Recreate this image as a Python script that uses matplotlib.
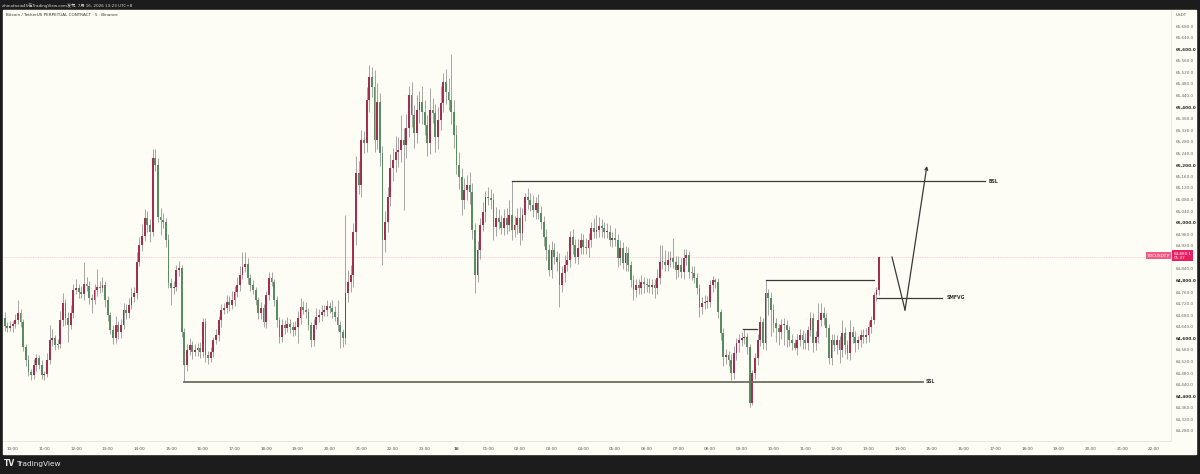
import numpy as np
import matplotlib.pyplot as plt
from matplotlib.patches import Rectangle
from matplotlib.transforms import blended_transform_factory

plt.rcParams['font.family'] = ['DejaVu Sans', 'Noto Sans CJK SC']

# BTCUSDT.P 5 min candles, 15 Jul 09:40 -> 16 Jul 13:20 (UTC+8)
first_open = 64650
closes = [
    64670, 64643, 64636, 64643, 64650, 64663, 64688, 64657, 64570, 64525,
    64484, 64473, 64508, 64532, 64508, 64473, 64477, 64525, 64594, 64601,
    64577, 64580, 64663, 64722, 64670, 64646, 64688, 64767, 64774, 64760,
    64753, 64788, 64781, 64740, 64733, 64767, 64778, 64774, 64785, 64733,
    64681, 64629, 64601, 64646, 64622, 64646, 64698, 64688, 64715, 64743,
    64757, 64864, 64923, 64954, 65016, 64992, 64968, 65224, 65200, 65020,
    65009, 65002, 64940, 64791, 64774, 64778, 64836, 64843, 64622, 64508,
    64560, 64577, 64553, 64560, 64567, 64553, 64657, 64542, 64532, 64553,
    64594, 64612, 64663, 64698, 64705, 64726, 64715, 64733, 64760, 64785,
    64819, 64847, 64857, 64809, 64785, 64767, 64733, 64688, 64705, 64657,
    64750, 64809, 64795, 64733, 64663, 64605, 64646, 64636, 64650, 64639,
    64629, 64639, 64670, 64708, 64698, 64691, 64646, 64594, 64646, 64674,
    64681, 64691, 64698, 64712, 64705, 64691, 64674, 64646, 64622, 64601,
    64757, 64795, 64819, 64968, 65172, 65130, 65286, 65276, 65424, 65504,
    65469, 65286, 65417, 65241, 64940, 65002, 65089, 65189, 65217, 65244,
    65251, 65286, 65269, 65327, 65442, 65372, 65310, 65390, 65417, 65383,
    65338, 65276, 65390, 65379, 65296, 65355, 65414, 65487, 65452, 65424,
    65383, 65303, 65200, 65158, 65078, 65113, 65130, 65106, 64975, 64819,
    64906, 64992, 65037, 65089, 65085, 65078, 64985, 65016, 65002, 64982,
    65016, 64992, 65027, 64975, 64992, 65016, 64964, 65027, 65089, 65078,
    65061, 65044, 65068, 65034, 65002, 64951, 64906, 64836, 64906, 64881,
    64864, 64785, 64826, 64854, 64871, 64951, 64923, 64881, 64912, 64940,
    64916, 64912, 64940, 64982, 64968, 64975, 64989, 64982, 64968, 64968,
    64940, 64947, 64940, 64878, 64912, 64861, 64895, 64854, 64802, 64767,
    64785, 64774, 64795, 64788, 64785, 64778, 64785, 64774, 64809, 64864,
    64864, 64854, 64871, 64878, 64864, 64836, 64854, 64829, 64878, 64888,
    64829, 64826, 64809, 64774, 64708, 64722, 64726, 64726, 64785, 64802,
    64795, 64691, 64619, 64536, 64542, 64525, 64480, 64549, 64584, 64594,
    64601, 64605, 64570, 64376, 64480, 64532, 64594, 64657, 64584, 64757,
    64740, 64698, 64653, 64636, 64622, 64646, 64646, 64629, 64594, 64584,
    64567, 64594, 64612, 64594, 64584, 64629, 64670, 64584, 64605, 64663,
    64688, 64670, 64636, 64532, 64594, 64577, 64594, 64560, 64619, 64577,
    64549, 64622, 64605, 64584, 64594, 64612, 64605, 64612, 64639, 64663,
    64750, 64767, 64880,
]
upper_wicks = [
    15, 20, 12, 18, 10, 22, 45, 14, 10, 12,
    16, 10, 20, 14, 12, 18, 10, 25, 52, 30,
    12, 18, 30, 35, 15, 20, 28, 22, 30, 15,
    20, 76, 25, 18, 14, 22, 62, 20, 28, 15,
    12, 10, 18, 30, 15, 22, 26, 20, 24, 30,
    22, 35, 28, 40, 30, 25, 20, 31, 30, 22,
    30, 25, 15, 20, 18, 22, 18, 25, 12, 15,
    20, 26, 15, 22, 18, 20, 14, 12, 15, 18,
    12, 20, 15, 22, 18, 25, 20, 30, 22, 28,
    30, 51, 40, 20, 15, 18, 12, 10, 22, 14,
    15, 20, 22, 12, 15, 10, 20, 18, 24, 16,
    18, 22, 25, 30, 20, 28, 15, 12, 22, 30,
    20, 25, 18, 22, 15, 28, 20, 59, 15, 12,
    270, 40, 35, 30, 60, 40, 35, 30, 45, 41,
    35, 60, 66, 30, 25, 40, 35, 50, 40, 55,
    45, 86, 40, 50, 30, 45, 35, 50, 40, 55,
    40, 35, 76, 40, 30, 45, 60, 30, 45, 50,
    159, 40, 35, 45, 30, 40, 35, 45, 30, 25,
    30, 25, 35, 20, 34, 30, 25, 40, 30, 25,
    30, 35, 51, 117, 30, 35, 40, 25, 13, 30,
    25, 35, 21, 30, 25, 20, 28, 22, 30, 25,
    20, 30, 25, 35, 30, 22, 28, 20, 30, 25,
    22, 30, 25, 20, 35, 52, 30, 25, 20, 30,
    25, 22, 35, 20, 28, 22, 25, 20, 15, 18,
    20, 22, 25, 18, 20, 25, 22, 20, 30, 59,
    59, 40, 30, 25, 69, 22, 30, 25, 31, 21,
    15, 20, 25, 18, 15, 20, 25, 22, 18, 15,
    7, 15, 12, 18, 20, 15, 20, 25, 18, 22,
    20, 27, 15, 12, 10, 18, 20, 22, 15, 45,
    15, 20, 22, 18, 15, 20, 25, 18, 15, 20,
    15, 22, 20, 18, 25, 15, 21, 18, 22, 59,
    34, 20, 18, 15, 22, 20, 18, 15, 44, 20,
    18, 41, 22, 20, 15, 18, 20, 25, 22, 15,
    12, 10, 1,
]
lower_wicks = [
    12, 18, 15, 10, 20, 14, 12, 18, 15, 20,
    15, 18, 12, 20, 15, 12, 18, 10, 15, 20,
    18, 15, 12, 20, 25, 60, 15, 18, 12, 20,
    15, 20, 18, 22, 45, 15, 20, 18, 12, 25,
    20, 15, 22, 18, 25, 20, 15, 22, 18, 15,
    18, 22, 15, 20, 18, 25, 35, 15, 20, 18,
    50, 20, 25, 18, 59, 20, 15, 22, 18, 58,
    20, 18, 25, 15, 22, 20, 18, 25, 20, 15,
    18, 15, 20, 22, 15, 18, 20, 15, 22, 18,
    20, 15, 18, 22, 20, 15, 18, 22, 20, 18,
    20, 18, 15, 22, 25, 21, 18, 20, 15, 22,
    20, 18, 55, 20, 15, 22, 18, 25, 20, 15,
    18, 20, 15, 22, 18, 20, 15, 22, 55, 31,
    20, 30, 35, 40, 45, 30, 40, 35, 30, 40,
    35, 40, 30, 45, 86, 40, 35, 30, 45, 40,
    50, 40, 225, 45, 30, 40, 50, 35, 45, 40,
    35, 46, 40, 35, 50, 40, 35, 30, 40, 35,
    40, 45, 30, 40, 50, 30, 35, 40, 30, 62,
    25, 30, 20, 35, 25, 30, 45, 30, 25, 20,
    25, 30, 20, 35, 25, 30, 41, 25, 20, 30,
    20, 25, 30, 22, 25, 30, 35, 20, 28, 25,
    30, 77, 25, 30, 20, 25, 30, 22, 25, 20,
    25, 20, 30, 25, 22, 20, 25, 30, 22, 20,
    22, 25, 20, 30, 25, 22, 28, 20, 25, 34,
    25, 22, 20, 30, 25, 22, 25, 34, 20, 22,
    25, 20, 22, 25, 20, 30, 25, 20, 22, 25,
    20, 25, 18, 22, 34, 25, 20, 22, 18, 25,
    20, 22, 25, 30, 25, 20, 24, 22, 25, 30,
    22, 20, 25, 14, 6, 20, 25, 22, 20, 25,
    60, 90, 30, 50, 45, 25, 70, 60, 22, 25,
    7, 25, 20, 30, 22, 25, 20, 30, 25, 22,
    20, 25, 30, 22, 25, 20, 30, 46, 25, 30,
    22, 25, 20, 30, 22, 25, 20, 22, 25, 20,
    15, 20, 18,
]

# hour labels (x = hours after 15 Jul 10:00)
hour_labels = ['10:00', '11:00', '12:00', '13:00', '14:00', '15:00', '16:00', '17:00',
               '18:00', '19:00', '20:00', '21:00', '22:00', '23:00', '16', '01:00',
               '02:00', '03:00', '04:00', '05:00', '06:00', '07:00', '08:00', '09:00',
               '10:00', '11:00', '12:00', '13:00', '14:00', '15:00', '16:00', '17:00',
               '18:00', '19:00', '20:00', '21:00', '22:00']
price_ticks = np.arange(64280, 65681, 40)

# drawn levels: (start hour, end hour, price, label)
bsl = (15.75, 30.67, 65144, 'BSL')
ssl = (5.417, 28.72, 64450, 'SSL')
smfvg = (27.27, 29.32, 64740, 'SMFVG')
level_high = (23.75, 27.17, 64802)
level_small = (23.04, 23.48, 64632)
path_hours = [27.74, 28.15, 28.84]
path_prices = [64881, 64698, 65196]
last_price = 64880.1

closes = np.array(closes, dtype=float)
n = len(closes)
hours = np.arange(n) / 12 - 1 / 3
opens = np.r_[first_open, closes[:-1]]
highs = np.maximum(opens, closes) + np.array(upper_wicks)
lows = np.minimum(opens, closes) - np.array(lower_wicks)
up = closes >= opens

bg = '#fdfcf5'
fig = plt.figure(figsize=(12, 4.74), dpi=100, facecolor='#1c1c1c')
fig.patches.append(Rectangle((3 / 1200, 20 / 474), 1193 / 1200, 444 / 474,
                             transform=fig.transFigure, color=bg, zorder=-5))
ax = fig.add_axes([3 / 1200, 33 / 474, 1168 / 1200, 431 / 474])
ax.set_facecolor(bg)

# candles: red up, green down
ax.vlines(hours, lows, highs, color='#8e8e8e', lw=0.55, zorder=2)
body = np.abs(closes - opens)
body[body < 3] = 3
ax.bar(hours[up], body[up], bottom=np.minimum(opens, closes)[up], width=0.058,
       color='#a52d50', lw=0, zorder=3)
ax.bar(hours[~up], body[~up], bottom=np.minimum(opens, closes)[~up], width=0.058,
       color='#5a8c62', lw=0, zorder=3)

# current price line
ax.axhline(last_price, color='#f2a7b5', lw=0.5, ls=(0, (1, 1.5)), zorder=1)

# drawings
line_kw = dict(color='#3a3a3a', lw=0.9, zorder=4)
for x0, x1, p, lab in (bsl, smfvg):
    ax.plot([x0, x1], [p, p], **line_kw)
    ax.text(x1 + 0.13, p, lab, fontsize=3.3, fontweight='bold', color='#333',
            va='center', ha='left')
ax.plot([bsl[0], bsl[0]], [bsl[2], highs[193]], **line_kw)
ax.plot([ssl[0], ssl[1]], [ssl[2], ssl[2]], color='#6e6e62', lw=1.3, zorder=4)
ax.text(ssl[1] + 0.08, ssl[2], ssl[3], fontsize=3.3, fontweight='bold', color='#333',
        va='center', ha='left')
ax.plot(level_high[:2], [level_high[2]] * 2, **line_kw)
ax.plot(level_small[:2], [level_small[2]] * 2, **line_kw)
ax.plot(path_hours[:2], path_prices[:2], **line_kw)
ax.annotate('', xy=(path_hours[2], path_prices[2]), xytext=(path_hours[1], path_prices[1]),
            arrowprops=dict(arrowstyle='->', color='#3a3a3a', lw=0.9,
                            mutation_scale=5, shrinkA=0, shrinkB=0), zorder=4)

ax.set_xlim(-0.303, 36.54)
ax.set_ylim(64245.1, 65735.5)

ax.set_xticks(np.arange(len(hour_labels)))
ax.set_xticklabels(hour_labels)
for t in ax.get_xticklabels():
    t.set_fontweight('bold' if t.get_text() == '16' else 'normal')
ax.tick_params(axis='x', length=0, pad=4, labelsize=3, labelcolor='#555')

# the price tag hides the 64,880 tick label
ax.yaxis.tick_right()
ax.set_yticks(price_ticks)
ax.set_yticklabels(['' if p == 64880 else f'{p:,.1f}' for p in price_ticks])
for t, p in zip(ax.get_yticklabels(), price_ticks):
    if p % 200 == 0:
        t.set_fontweight('bold')
        t.set_color('#222')
    else:
        t.set_color('#666')
ax.tick_params(axis='y', length=0, pad=3.5, labelsize=3)

for s in ('top', 'left'):
    ax.spines[s].set_visible(False)
for s in ('right', 'bottom'):
    ax.spines[s].set_color('#e4e4dc')
    ax.spines[s].set_linewidth(0.6)

# price label on the right
tr = blended_transform_factory(ax.transAxes, ax.transData)
ax.text(0.999, last_price + 6, 'BTCUSDT.P', transform=tr, ha='right', va='center',
        fontsize=3, color='white', clip_on=False,
        bbox=dict(boxstyle='square,pad=0.35', fc='#ef5b84', ec='none'))
ax.text(1.002, last_price + 20, f'{last_price:,.1f}\n01:37', transform=tr, ha='left',
        va='top', fontsize=3, color='white', clip_on=False, linespacing=1.15,
        bbox=dict(boxstyle='square,pad=0.35', fc='#e91e63', ec='none'))

# header / footer
fig.text(2 / 1200, 1 - 5 / 474, 'zhoudaxia45在TradingView.com发布, 7月 16, 2026 13:23 UTC+8',
         fontsize=3, color='#d8d8d8', va='center')
fig.text(6 / 1200, 1 - 15.5 / 474, 'Bitcoin / TetherUS PERPETUAL CONTRACT · 5 · Binance',
         fontsize=3, color='#333', va='center')
fig.text(1176 / 1200, 1 - 15.5 / 474, 'USDT', fontsize=3, color='#555', va='center')
fig.text(4 / 1200, 1 - 464 / 474, 'TV', fontsize=5.5, fontweight='bold', color='#e8e8e8',
         va='center')
fig.text(16 / 1200, 1 - 464 / 474, 'TradingView', fontsize=5.3, color='#e8e8e8',
         va='center')

fig.savefig('out.png', dpi=100, facecolor=fig.get_facecolor())
